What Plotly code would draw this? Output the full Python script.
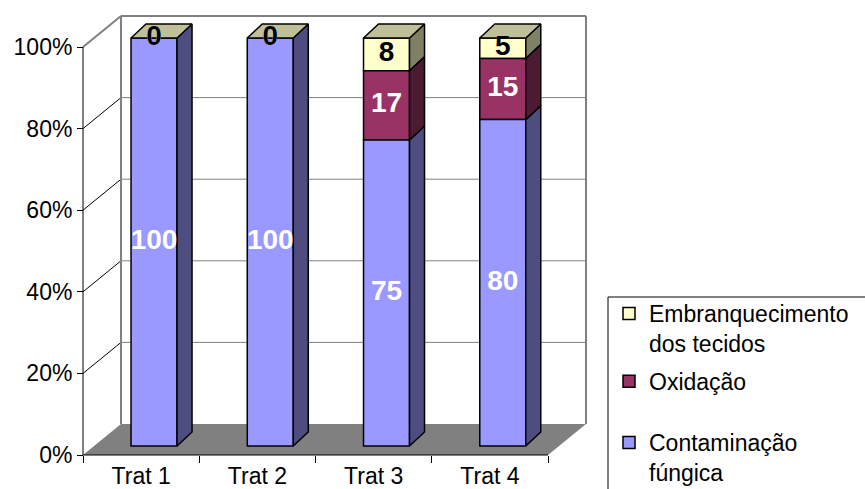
import plotly.graph_objects as go

# ---------------- data ----------------
categories = ["Trat 1", "Trat 2", "Trat 3", "Trat 4"]
contaminacao = [100, 100, 75, 80]
oxidacao = [0, 0, 17, 15]
embranquecimento = [0, 0, 8, 5]
y_tick_values = [0, 20, 40, 60, 80, 100]
y_tick_labels = ["0%", "20%", "40%", "60%", "80%", "100%"]
name_contaminacao = "Contaminação<br>fúngica"
name_oxidacao = "Oxidação"
name_embranquecimento = "Embranquecimento<br>dos tecidos"

# ---------------- geometry / style ----------------
W, H = 865, 489
AX_X0, AX_Y0 = 83, 455          # pixel of x=0 / y=0 on the front axes
XPU, YPU = 116.25, 4.08         # pixels per category / per percent
ML, MR, MT, MB = 48, 265, 10, 22
x_range = [(ML - AX_X0) / XPU, (W - MR - AX_X0) / XPU]
y_range = [(AX_Y0 - (H - MB)) / YPU, (AX_Y0 - MT) / YPU]
plot_w = W - ML - MR
plot_h = H - MT - MB

DXW, DYW = 38 / XPU, 31 / YPU   # depth of the chart walls
DXB, DYB = 12.9 / XPU, 9 / YPU  # bar front-face offset into the depth
DDX, DDY = 15 / XPU, 14 / YPU   # bar thickness (side/top faces)
BW = 46 / XPU

FONT = "Liberation Sans, Arial, sans-serif"
n = len(categories)

series = [
    # name, values, front, side, text colour, legend
    (name_contaminacao, contaminacao, "#9999FF", "#4D4D80", "white", "legend2"),
    (name_oxidacao, oxidacao, "#993366", "#4D1A33", "white", "legend"),
    (name_embranquecimento, embranquecimento, "#FFFFCC", "#808066", "black", "legend"),
]
TOP_COLOR = "#BFBF99"

fig = go.Figure()

# stacking bases
bases = []
acc = [0] * n
for _, vals, *_ in series:
    bases.append(list(acc))
    acc = [a + v for a, v in zip(acc, vals)]
totals = acc
centers = [i + 0.5 + DXB for i in range(n)]

# side faces
for (name, vals, front, side, tc, lg), base in zip(series, bases):
    xs, ys = [], []
    for c, b, v in zip(centers, base, vals):
        if v <= 0:
            continue
        r = c + BW / 2
        y0 = b + DYB
        y1 = b + v + DYB
        xs += [r, r, r + DDX, r + DDX, r, None]
        ys += [y0, y1, y1 + DDY, y0 + DDY, y0, None]
    fig.add_trace(go.Scatter(x=xs, y=ys, mode="lines", fill="toself", fillcolor=side,
                             line=dict(color="black", width=1.5), showlegend=False,
                             hoverinfo="skip"))

# top faces
xs, ys = [], []
for c, t in zip(centers, totals):
    l = c - BW / 2
    r = c + BW / 2
    y = t + DYB
    xs += [l, r, r + DDX, l + DDX, l, None]
    ys += [y, y, y + DDY, y + DDY, y, None]
fig.add_trace(go.Scatter(x=xs, y=ys, mode="lines", fill="toself", fillcolor=TOP_COLOR,
                         line=dict(color="black", width=1.5), showlegend=False,
                         hoverinfo="skip"))

# front faces (bars) in legend order
order = [2, 1, 0]
for k in order:
    name, vals, front, side, tc, lg = series[k]
    fig.add_trace(go.Bar(
        x=centers, y=vals, base=[b + DYB for b in bases[k]], width=BW,
        marker=dict(color=front, line=dict(color="black", width=1.5)),
        name=name, legend=lg, legendgroup=f"g{k}", hoverinfo="skip",
    ))

# value labels
for k in [0, 1, 2]:
    name, vals, front, side, tc, lg = series[k]
    fig.add_trace(go.Scatter(
        x=centers, y=[b + v / 2 + DYB for b, v in zip(bases[k], vals)],
        mode="text", text=[str(v) for v in vals],
        textfont=dict(family=FONT, size=28, color=tc, weight="bold"),
        showlegend=False, hoverinfo="skip", cliponaxis=False,
    ))

# dummy trace for the tick-mark axis
fig.add_trace(go.Scatter(x=[None], y=[None], xaxis="x2", yaxis="y", showlegend=False))

# ---------------- walls, floor, gridlines ----------------
shapes = []
shapes.append(dict(type="path", xref="x", yref="y", layer="below",
                   path=f"M0,0 L{n},0 L{n + DXW},{DYW} L{DXW},{DYW} Z",
                   fillcolor="#808080", line=dict(width=0)))
for v in y_tick_values[1:]:
    top = v == y_tick_values[-1]
    shapes.append(dict(type="line", xref="x", yref="y", layer="below",
                       x0=0, y0=v, x1=DXW, y1=v + DYW,
                       line=dict(color="#808080" if top else "black", width=2 if top else 1)))
    shapes.append(dict(type="line", xref="x", yref="y", layer="below",
                       x0=DXW, y0=v + DYW, x1=n + DXW, y1=v + DYW,
                       line=dict(color="#808080", width=2 if top else 1)))
for xw in (DXW, n + DXW):
    shapes.append(dict(type="line", xref="x", yref="y", layer="below",
                       x0=xw, y0=DYW, x1=xw, y1=100 + DYW,
                       line=dict(color="#808080", width=2)))
# front axis lines
shapes.append(dict(type="line", xref="x", yref="y", layer="below",
                   x0=0, y0=0, x1=0, y1=100, line=dict(color="black", width=1)))
shapes.append(dict(type="line", xref="x", yref="y", layer="below",
                   x0=0, y0=0, x1=n, y1=0, line=dict(color="black", width=1)))
# legend frame
shapes.append(dict(type="rect", xref="paper", yref="paper",
                   x0=(608 - ML) / plot_w, x1=2.0,
                   y0=-0.5, y1=(H - MB - 297) / plot_h,
                   line=dict(color="black", width=1), fillcolor="rgba(0,0,0,0)"))

x_pos = (H - MB - AX_Y0) / plot_h
y_pos = (AX_X0 - ML) / plot_w

fig.update_layout(
    width=W, height=H,
    margin=dict(l=ML, r=MR, t=MT, b=MB, pad=0, autoexpand=False),
    paper_bgcolor="white", plot_bgcolor="white",
    barmode="overlay",
    font=dict(family=FONT, size=22, color="black"),
    shapes=shapes,
    xaxis=dict(range=x_range, tickmode="array", tickvals=[i + 0.5 for i in range(n)],
               ticktext=categories, ticks="", showgrid=False, zeroline=False,
               showline=False, anchor="free", position=x_pos, automargin=False,
               tickfont=dict(family=FONT, size=23, color="black"), ticklabelstandoff=5),
    xaxis2=dict(range=x_range, overlaying="x", tickmode="array",
                tickvals=list(range(n + 1)), ticks="outside", ticklen=7,
                tickcolor="black", tickwidth=1, showticklabels=False, showgrid=False,
                zeroline=False, showline=False, anchor="free", position=x_pos,
                side="bottom", automargin=False),
    yaxis=dict(range=y_range, tickmode="array", tickvals=y_tick_values,
               ticktext=y_tick_labels, ticks="outside", ticklen=6, tickcolor="black",
               tickwidth=1, showgrid=False, zeroline=False, showline=False,
               anchor="free", position=y_pos, automargin=False,
               tickfont=dict(family=FONT, size=23, color="black")),
    legend=dict(xref="container", yref="container", x=609 / W, y=1 - 292 / H,
                xanchor="left", yanchor="top", bgcolor="rgba(0,0,0,0)", borderwidth=0,
                valign="top", traceorder="grouped", tracegroupgap=5,
                font=dict(family=FONT, size=23, color="black")),
    legend2=dict(xref="container", yref="container", x=609 / W, y=1 - 421 / H,
                 xanchor="left", yanchor="top", bgcolor="rgba(0,0,0,0)", borderwidth=0,
                 valign="top", font=dict(family=FONT, size=23, color="black")),
    showlegend=True,
)

fig.write_html("out.html", config={"displayModeBar": False},
               post_script="document.body.style.margin='0';document.body.style.overflow='hidden';")
